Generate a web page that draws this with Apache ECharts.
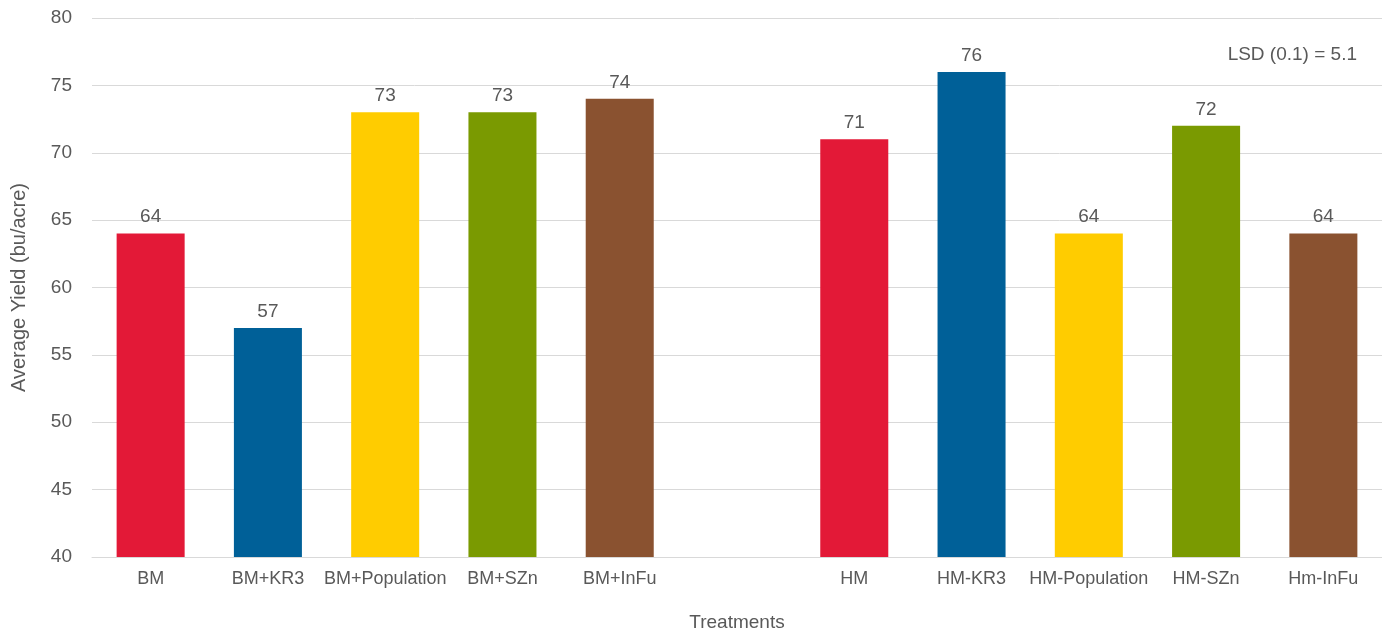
<!DOCTYPE html>
<html>
<head>
<meta charset="utf-8">
<script src="https://cdn.jsdelivr.net/npm/echarts@6/dist/echarts.min.js"></script>
<style>
  html, body { margin: 0; padding: 0; background: #fff; }
  #chart { width: 1382px; height: 631px; }
</style>
</head>
<body>
<div id="chart"></div>
<script>
// Treatments (an empty slot separates the BM and HM groups)
const categories = ['BM', 'BM+KR3', 'BM+Population', 'BM+SZn', 'BM+InFu', '',
  'HM', 'HM-KR3', 'HM-Population', 'HM-SZn', 'Hm-InFu'];
const yieldValues = [64, 57, 73, 73, 74, null, 71, 76, 64, 72, 64];
const yTicks = [40, 45, 50, 55, 60, 65, 70, 75, 80];
const lsdNote = 'LSD (0.1) = 5.1';

const barColors = ['#E31937', '#006098', '#FFCC00', '#7A9A01', '#8A5230', '#ffffff',
  '#E31937', '#006098', '#FFCC00', '#7A9A01', '#8A5230'];

const font = 'Helvetica, "Liberation Sans", Arial, sans-serif';
const chart = echarts.init(document.getElementById('chart'));

chart.setOption({
  animation: false,
  textStyle: { fontFamily: font },
  grid: { left: 92, right: 0, top: 18, bottom: 74, containLabel: false, outerBoundsMode: 'none' },
  graphic: [{
    type: 'text',
    right: 25,
    top: 45,
    style: { text: lsdNote, fontSize: 19, fill: '#595959', fontFamily: font }
  }],
  xAxis: {
    type: 'category',
    data: categories,
    name: 'Treatments',
    nameLocation: 'middle',
    nameGap: 56,
    nameTextStyle: { fontSize: 19, color: '#595959' },
    axisLine: { lineStyle: { color: '#d9d9d9', width: 1 } },
    axisTick: { show: false },
    axisLabel: { fontSize: 18, color: '#595959', margin: 13, interval: 0 }
  },
  yAxis: {
    type: 'value',
    min: yTicks[0],
    max: yTicks[yTicks.length - 1],
    interval: 5,
    name: 'Average Yield (bu/acre)',
    nameLocation: 'middle',
    nameGap: 63,
    nameTextStyle: { fontSize: 20, color: '#595959' },
    axisLine: { show: false },
    axisTick: { show: false },
    axisLabel: { fontSize: 19, color: '#595959', margin: 20 },
    splitLine: { lineStyle: { color: '#d9d9d9', width: 1 } }
  },
  series: [{
    type: 'bar',
    barWidth: '58%',
    data: yieldValues.map((v, i) => ({ value: v, itemStyle: { color: barColors[i] } })),
    label: {
      show: true,
      position: 'top',
      distance: 7,
      fontSize: 19,
      color: '#595959',
      formatter: p => (p.value == null ? '' : p.value)
    }
  }]
});
</script>
</body>
</html>
